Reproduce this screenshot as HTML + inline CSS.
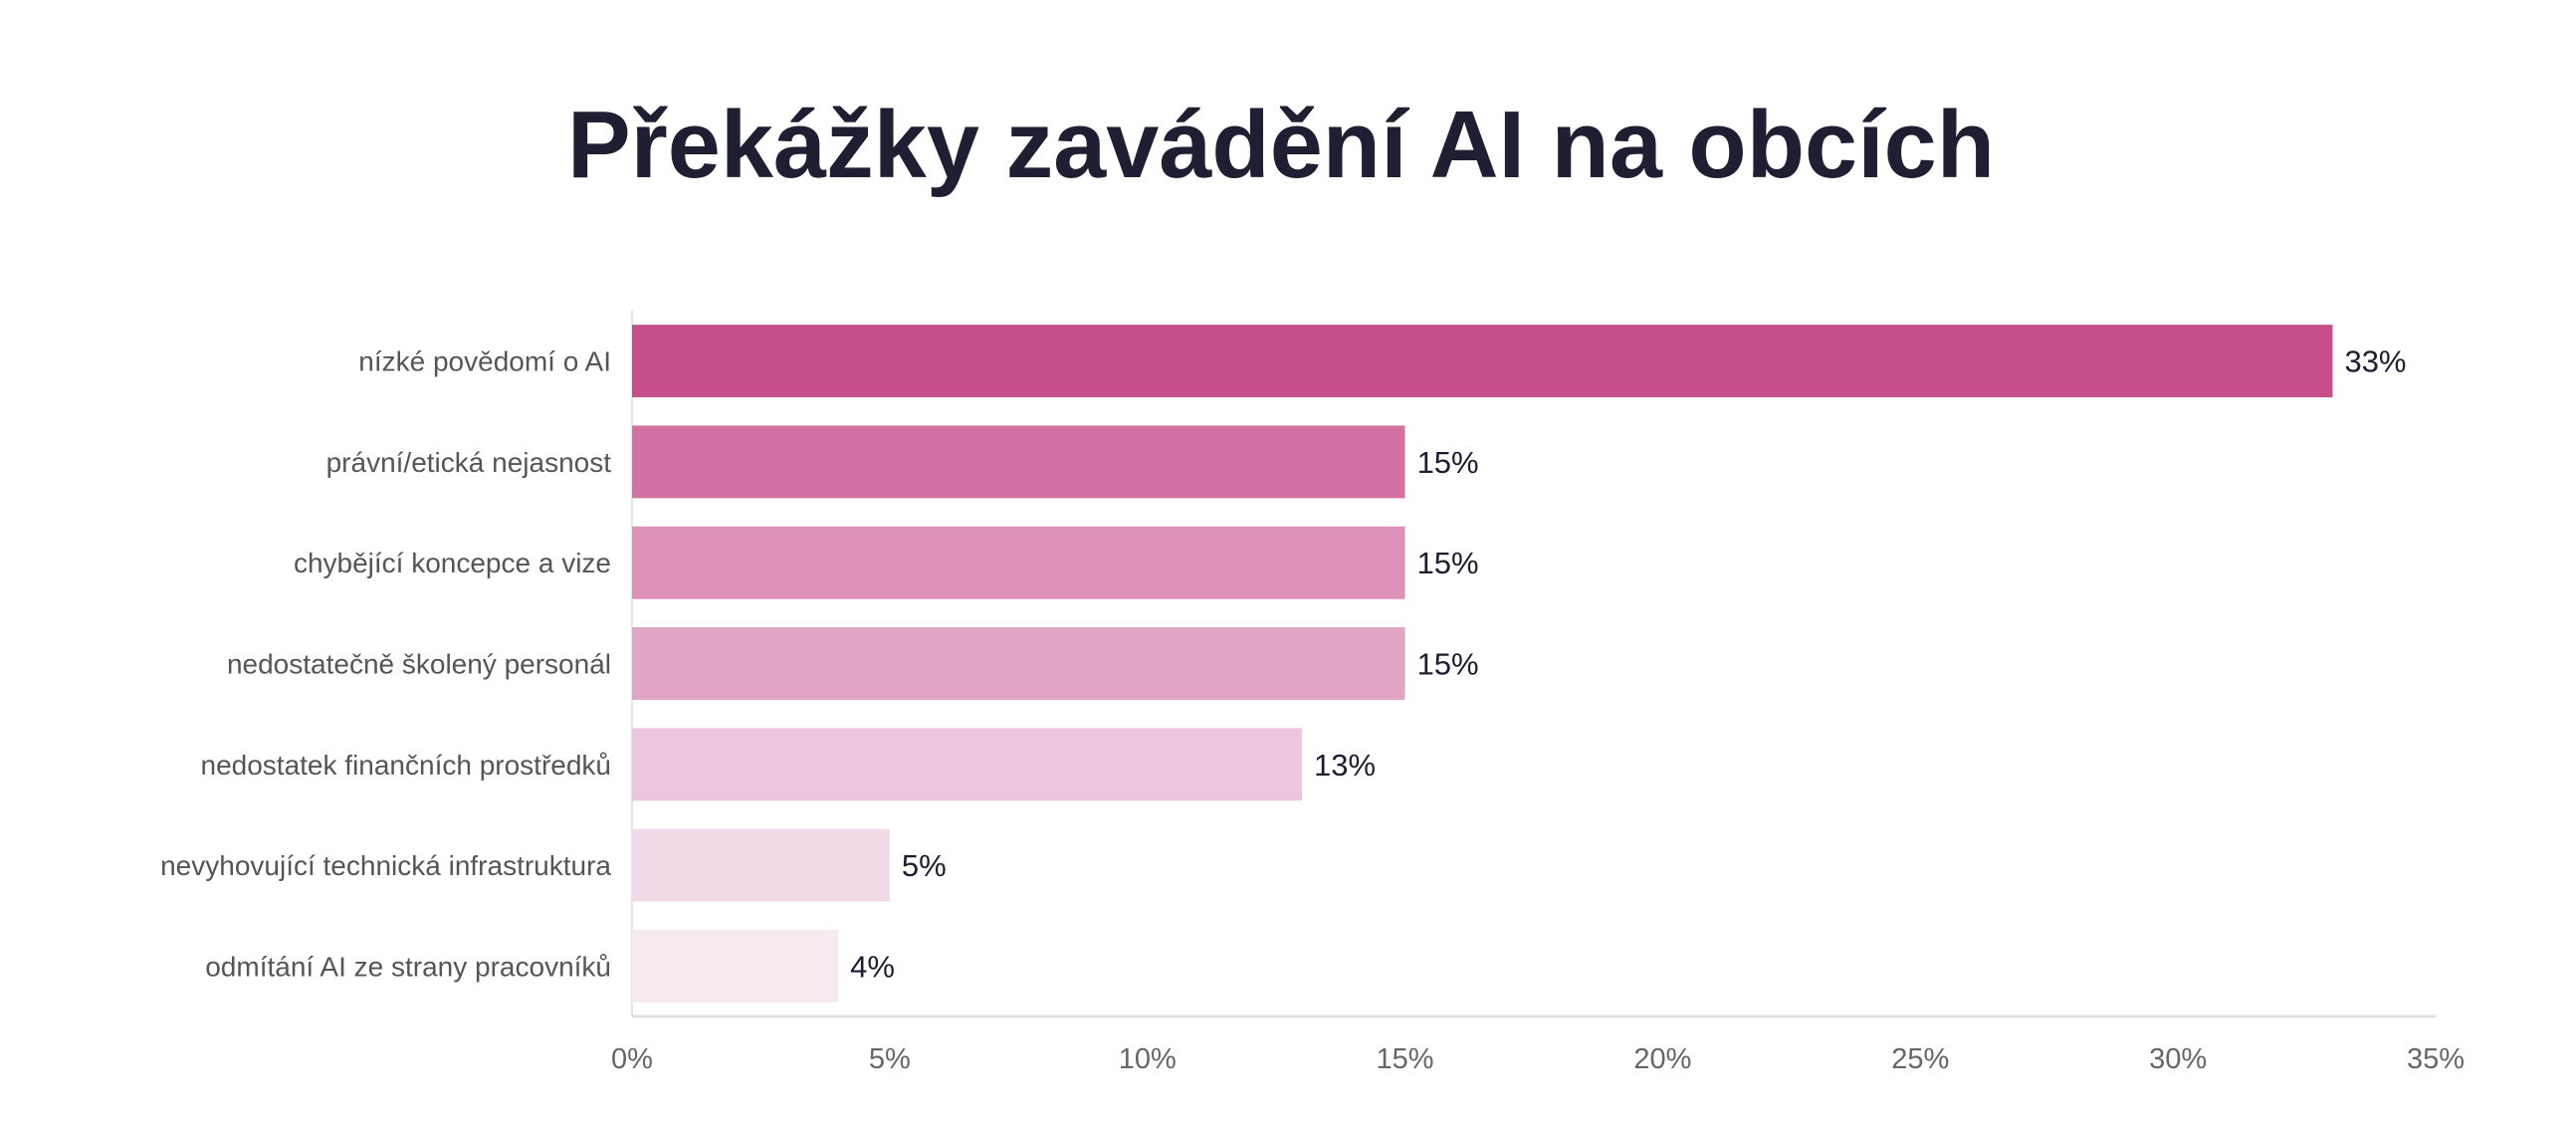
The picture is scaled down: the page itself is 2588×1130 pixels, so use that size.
<!DOCTYPE html>
<html><head><meta charset="utf-8"><style>
html,body{margin:0;padding:0;background:#fff;}
svg{display:block;font-family:"Liberation Sans",sans-serif;}
</style></head><body>
<svg id="chart" width="2588" height="1130" viewBox="0 0 2588 1130">
<text x="1287" y="178" text-anchor="middle" font-size="96" font-weight="bold" fill="#1f1f33" textLength="1434" lengthAdjust="spacingAndGlyphs">Překážky zavádění AI na obcích</text>
<g id="plot"></g>
</svg>
<script>
const categories = ["nízké povědomí o AI","právní/etická nejasnost","chybějící koncepce a vize","nedostatečně školený personál","nedostatek finančních prostředků","nevyhovující technická infrastruktura","odmítání AI ze strany pracovníků"];
const values = [33,15,15,15,13,5,4];
const valueLabels = ["33%","15%","15%","15%","13%","5%","4%"];
const ticks = [0,5,10,15,20,25,30,35];
const tickLabels = ["0%","5%","10%","15%","20%","25%","30%","35%"];
const colors = ["#c54d8a","#d271a2","#dd91b9","#e2a4c5","#edc6db","#f2d9e7","#f8e9f1"];

const NS="http://www.w3.org/2000/svg";
const g=document.getElementById('plot');
const x0=635, x1=2447, yTop=312, yBot=1021, xMax=35;
const xs=v=>x0+(v/xMax)*(x1-x0);
const band=(yBot-yTop)/categories.length, barH=band*0.72;
function mk(t,a){const e=document.createElementNS(NS,t);for(const k in a)e.setAttribute(k,a[k]);g.appendChild(e);return e;}

const yl=mk('line',{x1:x0,y1:yTop,x2:x0,y2:yBot,stroke:'#e6e6e6','stroke-width':2});


const xl=mk('line',{x1:x0,y1:yBot,x2:x1,y2:yBot,stroke:'#e0e0e0','stroke-width':3});



categories.forEach((c,i)=>{
  const yb=yTop+band*i+(band-barH)/2;
  const r=mk('rect',{x:x0,y:yb,width:xs(values[i])-x0,height:barH,fill:colors[i]});
  
  
  const cy=yb+barH/2;
  const l=mk('text',{x:614,y:cy+10,'text-anchor':'end','font-size':28,fill:'#555'});
  l.textContent=c;
  
  
  const v=mk('text',{x:xs(values[i])+12,y:cy+11,'font-size':31,fill:'#1c1c33'});
  v.textContent=valueLabels[i];
  
  
});
ticks.forEach((t,i)=>{
  const tx=mk('text',{x:xs(t),y:1073,'text-anchor':'middle','font-size':29,fill:'#666'});
  tx.textContent=tickLabels[i];
  
  
});
</script>
</body></html>
